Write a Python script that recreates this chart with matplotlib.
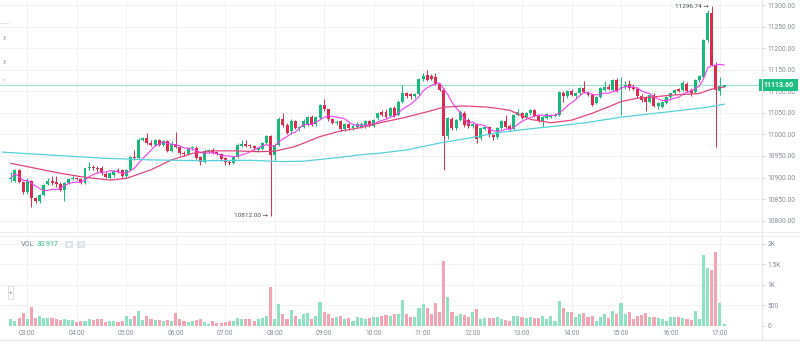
import numpy as np
import pandas as pd
import matplotlib
matplotlib.use('Agg')
import matplotlib.pyplot as plt
from matplotlib.patches import Rectangle
from matplotlib.lines import Line2D
import matplotlib.transforms as mtransforms

plt.rcParams['font.family'] = ['Roboto', 'DejaVu Sans']

# ---------------- data ----------------
start_time = '02:40'   # first 5-minute candle

opens = [
    10896, 10893, 10917, 10890, 10866, 10892, 10852, 10845, 10860, 10884,
    10891, 10890, 10886, 10871, 10887, 10897, 10900, 10897, 10888, 10921,
    10925, 10922, 10922, 10909, 10900, 10905, 10917, 10918, 10903, 10918,
    10948, 10946, 10988, 10991, 10979, 10976, 10986, 10976, 10984, 10962,
    10977, 10971, 10958, 10955, 10968, 10969, 10948, 10936, 10961, 10963,
    10959, 10955, 10945, 10937, 10934, 10948, 10974, 10978, 10975, 10973,
    10963, 10966, 10979, 10996, 10953, 10975, 11035, 11022, 11008, 11030,
    11014, 11018, 11025, 11040, 11024, 11038, 11068, 11058, 11036, 11026,
    11030, 11012, 11024, 11014, 11018, 11018, 11020, 11031, 11020, 11037,
    11053, 11052, 11043, 11062, 11044, 11076, 11095, 11094, 11088, 11094,
    11128, 11138, 11136, 11133, 11118, 11103, 10996, 11036, 11014, 11033,
    11050, 11034, 11019, 11024, 10991, 11013, 11017, 10999, 10994, 11015,
    11030, 11020, 11012, 11045, 11050, 11040, 11049, 11056, 11043, 11032,
    11038, 11041, 11043, 11046, 11096, 11088, 11101, 11088, 11095, 11107,
    11098, 11091, 11073, 11087, 11104, 11111, 11103, 11126, 11106, 11109,
    11117, 11110, 11106, 11090, 11085, 11076, 11091, 11065, 11064, 11073,
    11086, 11095, 11105, 11102, 11118, 11104, 11099, 11125, 11134, 11219,
    11282, 11161, 11101, 11111]

highs = [
    10912, 10920, 10920, 10893, 10898, 10895, 10855, 10862, 10886, 10900,
    10903, 10903, 10890, 10890, 10900, 10903, 10902, 10900, 10923, 10937,
    10928, 10927, 10926, 10912, 10912, 10917, 10921, 10920, 10920, 10950,
    10963, 10992, 10993, 11003, 10988, 10990, 10990, 10988, 10988, 10985,
    11005, 10973, 10962, 10971, 10973, 10972, 10950, 10966, 10966, 10968,
    10962, 10958, 10948, 10940, 10950, 10980, 10987, 10987, 10978, 10976,
    10971, 10982, 10998, 10998, 10978, 11040, 11049, 11026, 11036, 11034,
    11020, 11035, 11043, 11045, 11042, 11071, 11081, 11060, 11038, 11033,
    11033, 11027, 11027, 11023, 11028, 11028, 11034, 11034, 11036, 11052,
    11056, 11058, 11063, 11066, 11080, 11115, 11098, 11097, 11096, 11131,
    11142, 11149, 11141, 11143, 11120, 11108, 11040, 11040, 11036, 11056,
    11055, 11038, 11027, 11027, 11017, 11020, 11020, 11002, 11018, 11033,
    11045, 11024, 11048, 11058, 11053, 11052, 11060, 11060, 11046, 11043,
    11050, 11046, 11049, 11101, 11100, 11104, 11105, 11099, 11110, 11124,
    11100, 11094, 11089, 11109, 11124, 11116, 11129, 11131, 11134, 11124,
    11125, 11118, 11110, 11093, 11089, 11094, 11095, 11075, 11078, 11090,
    11097, 11105, 11108, 11124, 11122, 11107, 11128, 11138, 11221, 11288,
    11296.74, 11169, 11134, 11115]

lows = [
    10890, 10890, 10888, 10862, 10862, 10832, 10842, 10842, 10857, 10882,
    10882, 10878, 10868, 10846, 10885, 10894, 10895, 10885, 10886, 10918,
    10918, 10914, 10907, 10899, 10897, 10902, 10911, 10900, 10901, 10915,
    10940, 10944, 10984, 10977, 10972, 10973, 10972, 10973, 10959, 10959,
    10968, 10953, 10951, 10953, 10963, 10943, 10929, 10933, 10958, 10955,
    10952, 10939, 10930, 10928, 10932, 10945, 10970, 10970, 10968, 10965,
    10960, 10963, 10977, 10812, 10941, 10972, 11018, 11000, 11002, 11013,
    11008, 11015, 11020, 11020, 11020, 11035, 11055, 11032, 11023, 11022,
    11008, 11009, 11010, 11011, 11015, 11015, 11016, 11017, 11017, 11034,
    11043, 11038, 11040, 11040, 11042, 11073, 11085, 11083, 11085, 11091,
    11124, 11123, 11125, 11115, 11100, 10918, 10990, 11010, 11010, 11030,
    11018, 11016, 11014, 10980, 10988, 11010, 10995, 10988, 10990, 11012,
    11015, 11009, 11010, 11042, 11035, 11037, 11046, 11040, 11028, 11018,
    11035, 11038, 11040, 11043, 11076, 11085, 11088, 11085, 11092, 11095,
    11088, 11066, 11070, 11084, 11100, 11102, 11100, 11098, 11045, 11105,
    11104, 11104, 11085, 11075, 11055, 11072, 11063, 11060, 11061, 11070,
    11083, 11092, 11098, 11100, 11099, 11090, 11096, 11122, 11131, 11215,
    11158, 10971, 11092, 11109]

closes = [
    10900, 10917, 10890, 10866, 10892, 10852, 10845, 10860, 10883, 10891,
    10888, 10886, 10871, 10887, 10897, 10899, 10897, 10888, 10921, 10925,
    10922, 10920, 10910, 10902, 10910, 10915, 10914, 10903, 10918, 10948,
    10946, 10988, 10991, 10979, 10976, 10987, 10975, 10985, 10962, 10977,
    10971, 10957, 10955, 10968, 10970, 10946, 10936, 10962, 10963, 10958,
    10955, 10942, 10936, 10934, 10948, 10975, 10978, 10974, 10972, 10968,
    10968, 10979, 10996, 10953, 10975, 11036, 11022, 11004, 11030, 11016,
    11017, 11032, 11040, 11024, 11040, 11068, 11058, 11036, 11026, 11029,
    11012, 11024, 11014, 11020, 11024, 11025, 11031, 11020, 11033, 11049,
    11045, 11041, 11061, 11043, 11076, 11095, 11089, 11088, 11094, 11128,
    11136, 11127, 11129, 11118, 11103, 10996, 11037, 11014, 11033, 11053,
    11022, 11020, 11024, 10990, 11014, 11017, 10998, 10994, 11015, 11030,
    11018, 11012, 11045, 11053, 11038, 11049, 11056, 11043, 11032, 11040,
    11048, 11044, 11046, 11098, 11088, 11101, 11091, 11096, 11107, 11098,
    11091, 11069, 11087, 11107, 11111, 11105, 11126, 11101, 11111, 11114,
    11107, 11105, 11088, 11080, 11076, 11091, 11067, 11072, 11076, 11087,
    11095, 11103, 11101, 11120, 11101, 11097, 11126, 11135, 11219, 11281,
    11161, 11103, 11112, 11113.60]

volumes = [
    163, 106, 188, 318, 163, 449, 180, 245, 196, 196,
    188, 163, 139, 155, 139, 139, 90, 122, 122, 171,
    139, 163, 163, 98, 122, 122, 74, 122, 245, 163,
    237, 351, 139, 237, 155, 139, 139, 122, 139, 122,
    318, 155, 122, 74, 106, 139, 155, 74, 41, 106,
    57, 65, 90, 106, 106, 188, 155, 163, 155, 122,
    155, 180, 229, 939, 163, 531, 286, 163, 384, 229,
    171, 286, 302, 163, 229, 572, 327, 270, 188, 204,
    237, 163, 188, 122, 204, 188, 155, 188, 212, 212,
    229, 261, 229, 286, 286, 637, 270, 220, 220, 417,
    515, 433, 286, 547, 327, 1576, 710, 327, 229, 286,
    261, 220, 343, 400, 163, 188, 196, 196, 212, 163,
    139, 122, 245, 245, 220, 180, 220, 188, 196, 229,
    163, 245, 122, 596, 425, 327, 327, 204, 270, 302,
    220, 245, 122, 204, 286, 188, 351, 278, 547, 286,
    327, 155, 229, 261, 318, 220, 220, 188, 163, 122,
    220, 204, 220, 188, 155, 139, 367, 163, 1731, 1405,
    1348, 1789, 555, 30.917]

ma25_times = ['02:40', '03:40', '04:05', '04:40', '05:00', '05:30', '05:55', '06:20',
              '06:45', '07:10', '07:40', '08:00', '08:25', '08:55', '09:20', '09:45',
              '10:10', '10:35', '11:00', '11:25', '11:50', '12:20', '12:45', '13:10',
              '13:35', '14:00', '14:25', '14:45', '15:00', '15:20', '15:40', '16:00',
              '16:20', '16:35', '16:50', '17:05']
ma25_values = [10933, 10910, 10902, 10894, 10898, 10918, 10941, 10956,
               10962, 10962, 10960, 10961, 10972, 10995, 11008, 11016,
               11028, 11038, 11050, 11063, 11066, 11063, 11056, 11035,
               11027, 11033, 11049, 11064, 11076, 11084, 11087, 11091,
               11093, 11095, 11105, 11110]

ma99_times = ['02:30', '04:30', '05:30', '06:30', '07:30', '08:10', '08:35', '08:55',
              '09:20', '09:45', '10:05', '10:40', '11:20', '12:00', '12:30', '13:10',
              '13:45', '14:20', '15:00', '16:00', '16:45', '17:05']
ma99_values = [10959, 10945, 10941, 10939, 10940, 10937, 10938, 10942,
               10947, 10953, 10956, 10964, 10980, 10993, 11004, 11013,
               11020, 11028, 11040, 11053, 11063, 11070]

last_price = 11113.60
vol_last_label = '30.917'
price_ticks = [10800, 10850, 10900, 10950, 11000, 11050, 11100, 11150, 11200, 11250, 11300]
vol_ticks = [0, 500, 1000, 1500, 2000]
vol_tick_labels = ['0', '500', '1K', '1.5K', '2K']

n = len(closes)
assert len(opens) == n and len(highs) == n and len(lows) == n and len(volumes) == n

# ---------------- styling ----------------
UP = '#17b97c'
DOWN = '#dc2b4c'
VUP = '#8fe2c2'
VDOWN = '#f3a5b3'
MA7C = '#f03ef0'
MA25C = '#e3457f'
MA99C = '#57d2dc'
GRID = '#f1f2f4'
BORDER = '#e4e6e9'
TXT = '#858c97'
DARK = '#474d57'

W, H = 800, 344
def fx(px):
    return px / W
def fy(py):
    return 1 - py / H

# time index
day = '2019-08-01 '
t0 = pd.Timestamp(day + start_time)
times = t0 + pd.to_timedelta(np.arange(n) * 5, unit='min')
def t2i(s):
    return (pd.Timestamp(day + s) - t0) / pd.Timedelta(minutes=5)

hour_mask = np.asarray(times.minute == 0)
hour_idx = np.arange(n)[hour_mask]
hour_lbl = [t.strftime('%H:%M') for t in times[hour_mask]]

O = np.array(opens, float); Hh = np.array(highs, float)
L = np.array(lows, float); C = np.array(closes, float)
V = np.array(volumes, float)
x = np.arange(n)
up = C >= O

fig = plt.figure(figsize=(8, 3.44), dpi=100)
fig.patch.set_facecolor('white')

ax = fig.add_axes([0, fy(232), fx(762), 232 / H])
axv = fig.add_axes([0, fy(325.5), fx(762), (325.5 - 236) / H])

xlim = (-2.62, 182.2)
for a in (ax, axv):
    a.set_xlim(*xlim)
    for s in a.spines.values():
        s.set_visible(False)
    a.set_facecolor('none')

ax.set_ylim(10773.8, 11311.6)
axv.set_ylim(0, 2193)

# grids
for a in (ax, axv):
    for hx in hour_idx:
        a.axvline(hx, color=GRID, lw=0.8, zorder=0)
for p in price_ticks:
    ax.axhline(p, color=GRID, lw=0.8, zorder=0)
for v in vol_ticks[1:]:
    axv.axhline(v, color=GRID, lw=0.8, zorder=0)

# ticks
ax.yaxis.tick_right()
ax.set_yticks(price_ticks)
ax.set_yticklabels([f'{p:.2f}' for p in price_ticks])
ax.set_xticks([])
ax.tick_params(axis='y', length=2.5, width=0.6, color='#c9cdd2', labelsize=4.8,
               labelcolor=TXT, pad=1.5)

axv.yaxis.tick_right()
axv.set_yticks(vol_ticks)
axv.set_yticklabels(vol_tick_labels)
axv.tick_params(axis='y', length=2.5, width=0.6, color='#c9cdd2', labelsize=4.8,
                labelcolor=TXT, pad=1.5)
axv.set_xticks(hour_idx)
axv.set_xticklabels(hour_lbl)
axv.tick_params(axis='x', length=0, labelsize=4.7, labelcolor=TXT, pad=3)

# current price line
ax.axhline(last_price, color='#9fe3c8', lw=0.8, zorder=1)

# candles
ccol = np.where(up, UP, DOWN)
ax.vlines(x, L, Hh, colors=ccol, lw=0.7, zorder=2)
body_lo = np.minimum(O, C)
body_h = np.maximum(np.abs(C - O), 1.8)
ax.bar(x, body_h, width=0.72, bottom=body_lo, color=ccol, linewidth=0, zorder=3)

# moving averages
ma7 = pd.Series(C).rolling(7, min_periods=1).mean()
ax.plot(x, ma7, color=MA7C, lw=0.8, zorder=4)
ax.plot([t2i(t) for t in ma25_times], ma25_values, color=MA25C, lw=0.9, zorder=4)
ax.plot([t2i(t) for t in ma99_times], ma99_values, color=MA99C, lw=0.9, zorder=4)

# high / low annotations
i_hi = int(np.argmax(Hh)); i_lo = int(np.argmin(L))
ax.text(i_hi - 0.6, Hh[i_hi], f'{Hh[i_hi]:.2f} \u2192', ha='right', va='center',
        fontsize=4.6, color=DARK, zorder=6)
ax.text(i_lo - 0.6, L[i_lo], f'{L[i_lo]:.2f} \u2192', ha='right', va='center',
        fontsize=4.6, color=DARK, zorder=6)

# last price box on the axis
trans = mtransforms.blended_transform_factory(ax.transAxes, ax.transData)
half = 6.0 / 0.4314
ax.add_patch(Rectangle((0.996, last_price - half), 39 / 762, 2 * half, transform=trans,
                       facecolor='#1fbf83', edgecolor='none', clip_on=False, zorder=10))
ax.text(0.996 + 19.5 / 762, last_price, f'{last_price:.2f}', transform=trans, ha='center',
        va='center', fontsize=5.0, color='white', fontweight='bold', clip_on=False, zorder=11)

# volume bars
vcol = np.where(up, VUP, VDOWN)
axv.bar(x, V, width=0.75, color=vcol, linewidth=0, zorder=2)

# VOL label and icons
fig.text(fx(20.7), fy(244.5), 'VOL', fontsize=5.2, color=TXT, va='center', ha='left')
fig.text(fx(36.7), fy(244.5), vol_last_label, fontsize=5.2, color='#2ec489', va='center', ha='left')
for bx, glyph in ((65, '\u25c9'), (77, '\u2699')):
    fig.add_artist(Rectangle((fx(bx), fy(248.3)), 8 / W, 7.6 / H, transform=fig.transFigure,
                             facecolor='#dfe2e6', edgecolor='none'))
    fig.text(fx(bx + 4), fy(244.5), glyph, fontsize=3.8, color='white', ha='center', va='center')

# small collapse button in volume pane
fig.add_artist(Rectangle((fx(8.3), fy(299.3)), 4.4 / W, 13.3 / H, transform=fig.transFigure,
                         facecolor='white', edgecolor='#cfd3d8', lw=0.5))
fig.text(fx(10.5), fy(292.7), '\u25c2', fontsize=3.5, color='#848e9c', ha='center', va='center')

# left toolbar hints
fig.add_artist(Line2D([0, fx(8)], [fy(22.7), fy(22.7)], transform=fig.transFigure,
                      color='#dfe2e6', lw=0.7))
for yy in (37.7, 62.3):
    fig.text(fx(4.3), fy(yy), '\u203a', fontsize=7.5, color='#7d8590', ha='center', va='center')
fig.text(fx(4.0), fy(83), '\u02bc', fontsize=5, color='#7d8590', ha='center', va='center')

# borders
for yy in (232, 236):
    fig.add_artist(Line2D([0, 1], [fy(yy), fy(yy)], transform=fig.transFigure,
                          color='#eceef1', lw=0.7))
fig.add_artist(Line2D([0, 1], [fy(340), fy(340)], transform=fig.transFigure,
                      color=BORDER, lw=0.8))
fig.add_artist(Line2D([fx(762), fx(762)], [fy(0), fy(340)], transform=fig.transFigure,
                      color=BORDER, lw=0.8))

fig.savefig('out.png', dpi=100, facecolor='white')
